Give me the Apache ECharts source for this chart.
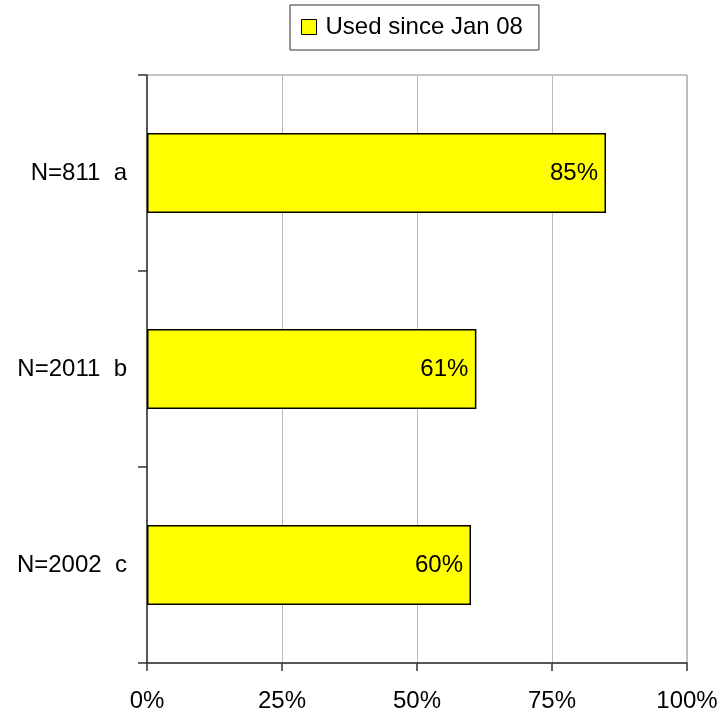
<!DOCTYPE html>
<html>
<head>
<meta charset="utf-8">
<script src="https://cdn.jsdelivr.net/npm/echarts@6/dist/echarts.min.js"></script>
<style>
  html, body { margin: 0; padding: 0; background: #ffffff; }
  #chart { width: 723px; height: 718px; }
</style>
</head>
<body>
<div id="chart"></div>
<script>
// Share of respondents who used the product since January 2008
const categories = ['N=811  a', 'N=2011  b', 'N=2002  c'];
const usedSinceJan08 = [85, 61, 60];
const seriesName = 'Used since Jan 08';
const xTicks = [0, 25, 50, 75, 100];

const FONT = 'Liberation Sans, Arial, Helvetica, sans-serif';

const chart = echarts.init(document.getElementById('chart'), null, { renderer: 'canvas' });

chart.setOption({
  backgroundColor: '#ffffff',
  animation: false,
  textStyle: { fontFamily: FONT, color: '#000' },
  legend: {
    data: [seriesName],
    left: 290,
    top: 5,
    padding: [10, 16, 11, 11],
    borderColor: '#333',
    borderWidth: 1,
    itemWidth: 15,
    itemHeight: 15,
    itemGap: 5,
    icon: 'rect',
    itemStyle: { borderColor: '#000', borderWidth: 1 },
    textStyle: { fontFamily: FONT, fontSize: 24, color: '#000', padding: [0, 0, 0, 4] }
  },
  grid: {
    left: 147,
    right: 36,
    top: 75,
    bottom: 55,
    show: true,
    borderColor: '#888',
    borderWidth: 1,
    containLabel: false
  },
  xAxis: {
    type: 'value',
    min: xTicks[0],
    max: xTicks[xTicks.length - 1],
    interval: 25,
    axisLine: { show: true, lineStyle: { color: '#333', width: 1.5 } },
    axisTick: { show: true, length: 8, lineStyle: { color: '#333', width: 1.5 } },
    splitLine: { show: true, lineStyle: { color: '#bbb', width: 1 } },
    axisLabel: {
      margin: 26,
      fontSize: 24,
      fontFamily: FONT,
      color: '#000',
      formatter: v => v + '%'
    }
  },
  yAxis: {
    type: 'category',
    data: categories,
    inverse: true,
    axisLine: { show: true, lineStyle: { color: '#333', width: 1.5 } },
    axisTick: { show: true, length: 9, lineStyle: { color: '#333', width: 1.5 } },
    splitLine: { show: false },
    axisLabel: {
      margin: 20,
      fontSize: 24,
      fontFamily: FONT,
      color: '#000'
    }
  },
  series: [{
    name: seriesName,
    type: 'bar',
    data: usedSinceJan08,
    barWidth: 80,
    itemStyle: { color: '#ffff00', borderColor: '#000', borderWidth: 1.5 },
    label: {
      show: true,
      position: 'insideRight',
      distance: 8,
      fontSize: 24,
      fontFamily: FONT,
      color: '#000',
      formatter: p => p.value + '%'
    }
  }]
});
</script>
</body>
</html>
